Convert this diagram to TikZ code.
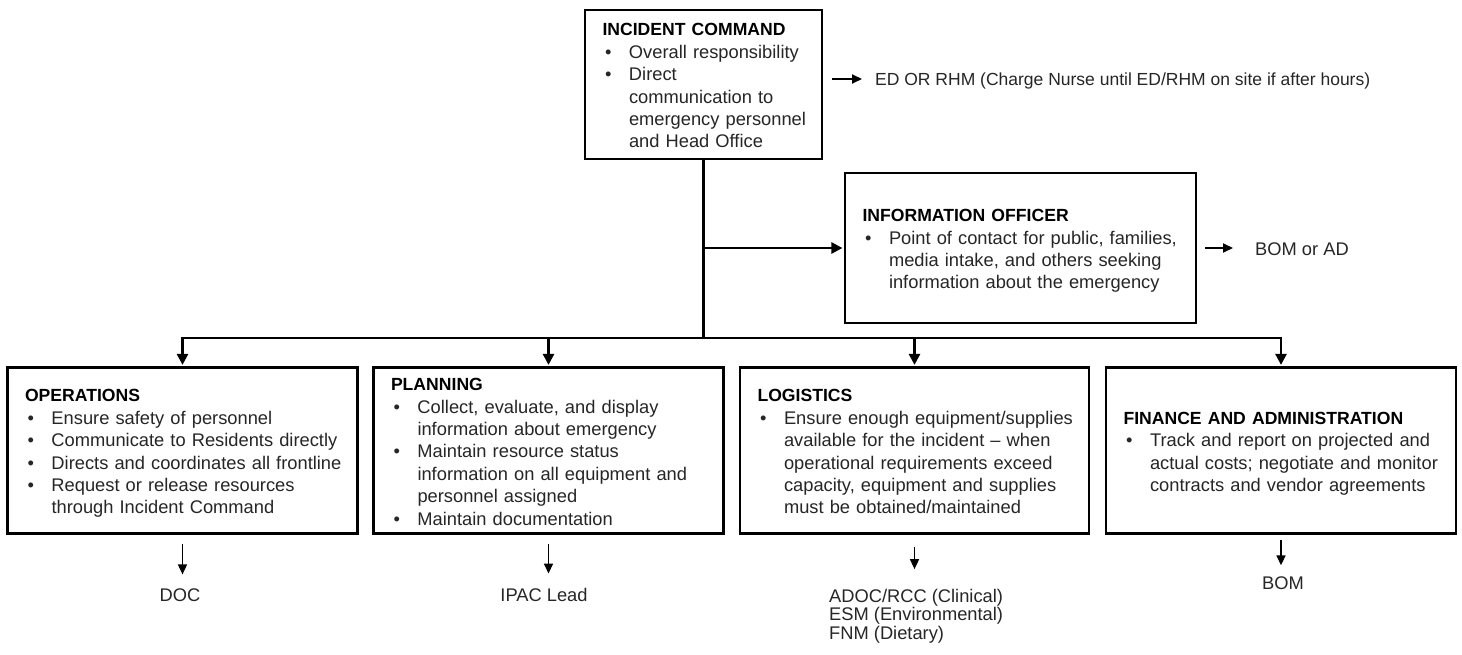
\documentclass[tikz,border=0pt]{standalone}
\usepackage{fontspec}
\setmainfont{Liberation Sans}
\usetikzlibrary{arrows.meta,calc}
\definecolor{txt}{RGB}{38,38,38}
\newcommand{\hd}[1]{\rule{0pt}{21.5pt}{\fontsize{17.6}{22.4}\selectfont\bfseries\color{black}#1}}
\newcommand{\bitem}{\makebox[26.5pt][l]{\hspace{2.5pt}•}}
\newcommand{\bind}{\hspace*{26.5pt}}
\begin{document}
\begin{tikzpicture}[x=1pt,y=1pt,
  box/.style={draw=black, line width=2.8pt, inner xsep=17.5pt, inner ysep=0pt,
    text width=#1, align=left, minimum height=166pt,
    font=\fontsize{18.3}{22.4}\selectfont, text=txt},
  lbl/.style={inner sep=0pt, font=\fontsize{18.3}{22}\selectfont, text=txt},
  conn/.style={draw=black, line width=2.6pt},
  bigtip/.style={-{Triangle[length=11pt,width=11pt]}, shorten >=1.2pt},
  sarr/.style={draw=black, line width=1.6pt, -{Triangle[length=10pt,width=9pt]}},
  harr/.style={draw=black, line width=1.8pt, -{Triangle[length=10pt,width=9pt]}}]
\useasboundingbox (0,0) rectangle (1462,-655);
\fill[white] (0,0) rectangle (1462,-655);

% boxes
\node[box=202pt, minimum height=149pt] (ic) at (703.5,-84.5) {\begin{tabular}{@{}l@{}}
\hd{INCIDENT COMMAND}\\
\bitem Overall responsibility\\
\bitem Direct\\
\bind communication to\\
\bind emergency personnel\\
\bind and Head Office
\end{tabular}};

\node[box=316pt, minimum height=150pt] (io) at (1020.5,-248) {\begin{tabular}{@{}l@{}}
\hd{INFORMATION OFFICER}\\
\bitem Point of contact for public, families,\\
\bind media intake, and others seeking\\
\bind information about the emergency
\end{tabular}};

\node[box=315pt] (ops) at (182.5,-450.5) {\begin{tabular}{@{}l@{}}
\hd{OPERATIONS}\\
\bitem Ensure safety of personnel\\
\bitem Communicate to Residents directly\\
\bitem Directs and coordinates all frontline\\
\bitem Request or release resources\\
\bind through Incident Command
\end{tabular}};

\node[box=315pt] (plan) at (548.5,-450.5) {\begin{tabular}{@{}l@{}}
\hd{PLANNING}\\
\bitem Collect, evaluate, and display\\
\bind information about emergency\\
\bitem Maintain resource status\\
\bind information on all equipment and\\
\bind personnel assigned\\
\bitem Maintain documentation
\end{tabular}};

\node[box=314pt] (log) at (914.5,-450.5) {\begin{tabular}{@{}l@{}}
\hd{LOGISTICS}\\
\bitem Ensure enough equipment/supplies\\
\bind available for the incident -- when\\
\bind operational requirements exceed\\
\bind capacity, equipment and supplies\\
\bind must be obtained/maintained
\end{tabular}};

\node[box=315pt] (fin) at (1281,-450.5) {\begin{tabular}{@{}l@{}}
\hd{FINANCE AND ADMINISTRATION}\\
\bitem Track and report on projected and\\
\bind actual costs; negotiate and monitor\\
\bind contracts and vendor agreements
\end{tabular}};

% labels
\node[lbl, anchor=base west, font=\fontsize{17.5}{22}\selectfont] (ed) at (875,-85.5) {ED OR RHM (Charge Nurse until ED/RHM on site if after hours)};
\node[lbl, anchor=base west] (bomad) at (1255,-255.5) {BOM or AD};
\node[lbl, anchor=base] (doc) at (180,-601) {DOC};
\node[lbl, anchor=base] (ipac) at (544,-601) {IPAC Lead};
\node[lbl, anchor=base west, font=\fontsize{18.3}{18}\selectfont] (loglbl) at (829,-602) {\begin{tabular}[t]{@{}l@{}}ADOC/RCC (Clinical)\\ESM (Environmental)\\FNM (Dietary)\end{tabular}};
\node[lbl, anchor=base] (bom) at (1283,-589) {BOM};

% main connectors
\coordinate (j) at (ic.south |- 0,-338);
\draw[conn] (ic.south) -- (j);
\draw[conn, bigtip] (ic.south |- io.west) -- (io.west);
\draw[conn, bigtip] (j) -| (ops.north);
\draw[conn, bigtip] (j) -| (fin.north);
\draw[conn, bigtip] (plan.north |- j) -- (plan.north);
\draw[conn, bigtip] (log.north |- j) -- (log.north);

% side arrows
\coordinate (edA) at (832,-79);
\draw[harr] (edA) -- ($(ed.west |- edA)+(-13,0)$);
\draw[harr] ([xshift=8pt]io.east) -- ($(bomad.west |- io.east)+(-22,0)$);

% lower arrows
\draw[sarr] ([yshift=-9.5pt]ops.south) -- ($(ops.south |- doc.north)+(0,13.6)$);
\draw[sarr] ([yshift=-9.5pt]plan.south) -- ($(plan.south |- ipac.north)+(0,14)$);
\draw[sarr] ([yshift=-12.5pt]log.south) -- ($(log.south |- loglbl.north)+(0,19.4)$);
\draw[sarr] ([yshift=-5.5pt]fin.south) -- ($(fin.south |- bom.north)+(0,10.7)$);
\end{tikzpicture}
\end{document}
